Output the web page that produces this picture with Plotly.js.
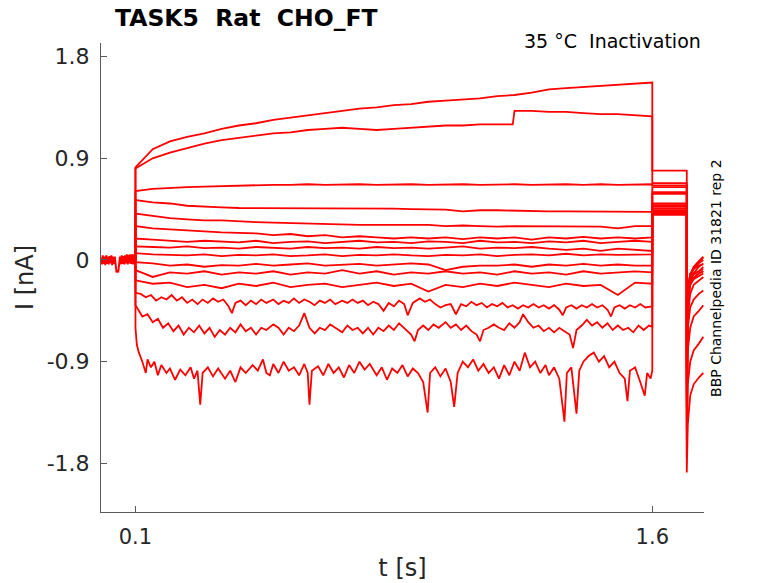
<!DOCTYPE html>
<html>
<head>
<meta charset="utf-8">
<script src="https://cdn.plot.ly/plotly-3.0.1.min.js"></script>
<style>html,body{margin:0;padding:0;background:#fff;}#chart{width:778px;height:583px;}</style>
</head>
<body>
<div id="chart"></div>
<script>
// ---- time bases (s) ----
const tGrid = [0.1,0.15,0.2,0.25,0.3,0.35,0.4,0.45,0.5,0.55,0.6,0.65,0.7,0.75,0.8,0.85,0.9,0.95,1.0,1.05,1.1,1.15,1.2,1.25,1.3,1.35,1.4,1.45,1.5,1.55,1.6];
const tJump = [0.1,0.15,0.2,0.25,0.3,0.35,0.4,0.45,0.5,0.55,0.6,0.65,0.7,0.75,0.8,0.85,0.9,0.95,1.0,1.05,1.1,1.15,1.195,1.2,1.25,1.3,1.35,1.4,1.45,1.5,1.55,1.6];
const baseT = [0,0.0025,0.005,0.0075,0.01,0.0125,0.015,0.0175,0.02,0.0225,0.025,0.0275,0.03,0.0325,0.035,0.0375,0.04,0.0425,0.045,0.0475,0.05,0.0525,0.055,0.0575,0.06,0.0625,0.065,0.0675,0.07,0.0725,0.075,0.0775,0.08,0.0825,0.085,0.0875,0.09,0.0925,0.095,0.0975,0.1];
const baseI = [0.02,-0.04,0.04,-0.035,0.03,-0.045,0.04,-0.035,0.03,-0.04,
0.035,-0.03,0.04,-0.045,0.03,-0.035,0.03,-0.07,-0.11,-0.09,
-0.11,-0.04,0.03,-0.04,0.04,-0.035,0.035,-0.04,0.04,-0.03,
0.05,-0.04,0.045,-0.03,0.05,-0.035,0.05,-0.04,0.05,-0.03,0.04];

// ---- sweep currents during the conditioning step (nA) ----
const sweep1 = [0.82,0.98,1.05,1.09,1.12,1.16,1.19,1.21,1.24,1.26,1.28,1.30,1.32,1.34,1.35,1.37,1.38,1.40,1.41,1.42,1.43,1.45,1.46,1.48,1.51,1.52,1.53,1.54,1.55,1.56,1.57];
const sweep2 = [0.81,0.90,0.95,0.99,1.03,1.06,1.08,1.10,1.12,1.13,1.15,1.16,1.17,1.16,1.15,1.16,1.17,1.18,1.19,1.19,1.20,1.20,1.20,1.32,1.32,1.31,1.31,1.30,1.29,1.29,1.28,1.27];
const sweep3 = [0.61,0.63,0.64,0.645,0.65,0.655,0.66,0.66,0.665,0.665,0.67,0.665,0.67,0.67,0.665,0.67,0.67,0.665,0.67,0.67,0.665,0.67,0.67,0.665,0.67,0.67,0.665,0.67,0.665,0.67,0.67];
const sweep4 = [0.53,0.51,0.50,0.48,0.47,0.465,0.46,0.46,0.46,0.455,0.46,0.455,0.46,0.455,0.46,0.455,0.45,0.45,0.445,0.43,0.44,0.44,0.435,0.435,0.43,0.43,0.43,0.425,0.425,0.425,0.425];
const sweep5 = [0.41,0.39,0.37,0.36,0.35,0.35,0.34,0.335,0.33,0.325,0.32,0.32,0.315,0.31,0.31,0.31,0.305,0.31,0.30,0.305,0.30,0.295,0.30,0.30,0.295,0.30,0.30,0.295,0.28,0.30,0.30];
const sweep6 = [0.30,0.28,0.27,0.26,0.25,0.245,0.24,0.235,0.22,0.23,0.21,0.22,0.20,0.21,0.20,0.19,0.20,0.19,0.20,0.185,0.20,0.19,0.20,0.18,0.20,0.19,0.205,0.19,0.20,0.19,0.20];
const sweep7 = [0.19,0.18,0.17,0.16,0.17,0.16,0.155,0.17,0.15,0.16,0.165,0.15,0.16,0.17,0.155,0.16,0.15,0.165,0.16,0.15,0.17,0.155,0.16,0.15,0.165,0.155,0.17,0.15,0.16,0.17,0.16];
const sweep8 = [0.12,0.115,0.11,0.12,0.105,0.11,0.10,0.115,0.11,0.10,0.115,0.105,0.11,0.10,0.115,0.105,0.11,0.10,0.11,0.12,0.10,0.11,0.105,0.115,0.10,0.09,0.10,0.08,0.10,0.09,0.08];
const sweep9 = [0.06,0.05,0.045,0.04,0.05,0.035,0.045,0.04,0.05,0.035,0.04,0.05,0.035,0.045,0.04,0.05,0.04,0.035,0.045,0.04,0.05,0.035,0.045,0.05,0.04,0.055,0.04,0.05,0.045,0.05,0.05];
const sweep10 = [-0.02,-0.03,-0.05,-0.04,-0.06,-0.045,-0.05,-0.035,-0.05,-0.04,-0.03,-0.05,-0.04,-0.035,-0.05,-0.04,-0.03,-0.04,-0.09,-0.06,-0.05,-0.05,-0.04,-0.06,-0.04,-0.05,-0.035,-0.05,-0.04,-0.05,-0.05];
const sweep11 = [-0.09,-0.15,-0.11,-0.12,-0.10,-0.13,-0.11,-0.12,-0.10,-0.13,-0.11,-0.12,-0.09,-0.12,-0.10,-0.13,-0.11,-0.12,-0.10,-0.12,-0.11,-0.13,-0.10,-0.12,-0.11,-0.13,-0.10,-0.12,-0.11,-0.10,-0.11];
const sweep12 = [-0.18,-0.21,-0.20,-0.24,-0.22,-0.25,-0.21,-0.23,-0.20,-0.24,-0.22,-0.21,-0.24,-0.22,-0.20,-0.23,-0.21,-0.28,-0.22,-0.24,-0.21,-0.23,-0.20,-0.22,-0.24,-0.21,-0.23,-0.22,-0.31,-0.20,-0.21];

const t13 = [0.1,0.115,0.13,0.145,0.16,0.175,0.19,0.205,0.22,0.235,
0.25,0.265,0.28,0.295,0.31,0.325,0.34,0.355,0.37,0.38,
0.39,0.405,0.42,0.435,0.45,0.465,0.48,0.5,0.515,0.53,
0.545,0.56,0.575,0.59,0.605,0.62,0.635,0.65,0.665,0.68,
0.7,0.715,0.73,0.745,0.76,0.775,0.79,0.805,0.82,0.835,
0.85,0.865,0.88,0.89,0.905,0.925,0.94,0.955,0.97,0.985,
1.0,1.015,1.03,1.045,1.06,1.075,1.09,1.105,1.12,1.135,
1.15,1.165,1.18,1.195,1.21,1.225,1.24,1.255,1.27,1.285,
1.3,1.315,1.33,1.34,1.35,1.365,1.38,1.395,1.41,1.425,
1.44,1.455,1.47,1.48,1.49,1.505,1.52,1.535,1.55,1.565,
1.58,1.6];
const sweep13 = [-0.29,-0.30,-0.33,-0.31,-0.36,-0.33,-0.35,-0.31,-0.36,-0.33,
-0.38,-0.35,-0.39,-0.35,-0.38,-0.34,-0.37,-0.35,-0.41,-0.47,
-0.38,-0.36,-0.40,-0.36,-0.39,-0.35,-0.38,-0.35,-0.39,-0.36,
-0.38,-0.34,-0.38,-0.35,-0.37,-0.40,-0.36,-0.38,-0.35,-0.39,
-0.36,-0.38,-0.35,-0.38,-0.36,-0.40,-0.37,-0.39,-0.45,-0.38,
-0.41,-0.36,-0.39,-0.49,-0.38,-0.34,-0.37,-0.35,-0.39,-0.42,
-0.40,-0.39,-0.48,-0.39,-0.41,-0.37,-0.40,-0.38,-0.42,-0.39,
-0.41,-0.38,-0.42,-0.40,-0.43,-0.40,-0.42,-0.39,-0.42,-0.40,
-0.43,-0.40,-0.44,-0.49,-0.42,-0.40,-0.43,-0.40,-0.42,-0.39,
-0.42,-0.40,-0.44,-0.50,-0.42,-0.40,-0.43,-0.40,-0.42,-0.39,
-0.42,-0.41];

const t14 = [0.1,0.11,0.12,0.135,0.15,0.165,0.18,0.195,0.21,0.225,
0.24,0.255,0.27,0.285,0.3,0.315,0.33,0.345,0.36,0.375,
0.39,0.405,0.42,0.435,0.45,0.465,0.48,0.5,0.515,0.53,
0.545,0.56,0.575,0.59,0.605,0.62,0.635,0.65,0.665,0.68,
0.7,0.715,0.73,0.745,0.76,0.775,0.79,0.805,0.82,0.835,
0.85,0.865,0.88,0.9,0.91,0.92,0.935,0.95,0.965,0.98,
1.0,1.015,1.03,1.045,1.06,1.075,1.09,1.1,1.11,1.125,
1.14,1.155,1.17,1.185,1.2,1.215,1.225,1.24,1.255,1.27,
1.285,1.3,1.315,1.33,1.345,1.36,1.37,1.38,1.395,1.41,
1.425,1.44,1.455,1.47,1.485,1.5,1.515,1.53,1.545,1.56,
1.575,1.59,1.6];
const sweep14 = [-0.40,-0.45,-0.50,-0.48,-0.55,-0.52,-0.60,-0.56,-0.63,-0.58,
-0.66,-0.60,-0.64,-0.58,-0.65,-0.60,-0.68,-0.62,-0.66,-0.60,
-0.64,-0.57,-0.63,-0.60,-0.66,-0.60,-0.62,-0.57,-0.60,-0.66,
-0.60,-0.63,-0.58,-0.47,-0.60,-0.65,-0.60,-0.62,-0.57,-0.60,
-0.64,-0.58,-0.62,-0.60,-0.65,-0.60,-0.66,-0.60,-0.63,-0.58,
-0.62,-0.56,-0.60,-0.66,-0.72,-0.62,-0.58,-0.62,-0.57,-0.60,
-0.55,-0.60,-0.57,-0.62,-0.58,-0.63,-0.66,-0.72,-0.62,-0.60,
-0.57,-0.60,-0.62,-0.56,-0.60,-0.55,-0.48,-0.55,-0.60,-0.58,
-0.63,-0.60,-0.64,-0.60,-0.63,-0.66,-0.78,-0.62,-0.58,-0.53,
-0.58,-0.55,-0.60,-0.56,-0.62,-0.58,-0.62,-0.60,-0.64,-0.58,
-0.62,-0.58,-0.59];

const t15 = [0.1,0.104,0.11,0.12,0.13,0.135,0.145,0.155,0.165,0.175,
0.19,0.2,0.215,0.23,0.245,0.26,0.27,0.28,0.288,0.295,
0.31,0.325,0.34,0.36,0.375,0.39,0.405,0.42,0.44,0.455,
0.47,0.48,0.49,0.5,0.515,0.53,0.545,0.56,0.575,0.59,
0.6,0.605,0.612,0.63,0.645,0.66,0.675,0.69,0.705,0.72,
0.735,0.75,0.765,0.78,0.8,0.815,0.83,0.845,0.86,0.875,
0.89,0.905,0.92,0.935,0.948,0.955,0.97,0.985,1.0,1.015,
1.025,1.035,1.05,1.065,1.08,1.095,1.11,1.125,1.14,1.155,
1.17,1.185,1.2,1.215,1.23,1.245,1.26,1.275,1.29,1.3,
1.315,1.33,1.345,1.352,1.365,1.38,1.388,1.4,1.415,1.43,
1.445,1.46,1.475,1.49,1.505,1.52,1.528,1.535,1.55,1.565,
1.578,1.585,1.595,1.6];
const sweep15 = [-0.60,-0.75,-0.82,-0.90,-1.00,-0.88,-0.95,-0.90,-1.02,-0.93,
-1.00,-0.96,-1.06,-0.97,-1.02,-0.95,-1.05,-0.98,-1.28,-1.00,
-0.95,-1.03,-0.96,-1.05,-0.98,-1.08,-0.95,-1.00,-0.93,-0.98,
-0.88,-1.00,-1.02,-0.92,-1.00,-0.90,-0.98,-0.95,-1.02,-0.92,
-1.00,-1.28,-0.98,-0.94,-1.02,-0.92,-1.00,-0.95,-1.04,-0.93,
-1.00,-0.90,-0.97,-0.92,-1.02,-0.95,-1.06,-0.96,-1.00,-0.93,
-1.03,-0.96,-1.00,-1.08,-1.35,-1.00,-0.95,-1.03,-0.96,-1.08,
-1.30,-1.00,-0.90,-0.95,-0.88,-0.98,-0.92,-1.00,-0.95,-1.05,
-0.93,-1.02,-0.90,-0.98,-0.82,-0.95,-0.90,-1.00,-0.93,-1.02,
-0.95,-1.05,-1.43,-1.00,-0.95,-1.36,-0.98,-0.90,-0.85,-0.82,
-0.90,-0.85,-0.95,-0.90,-1.00,-1.05,-1.25,-0.98,-0.95,-1.08,
-1.20,-1.00,-1.05,-0.98];

// ---- test-pulse (tail) level, 1.6 - 1.7 s ----
const tailLevels = [0.79,0.68,0.66,0.645,0.60,0.585,0.50,0.485,0.47,0.455,0.44,0.43,0.42,0.41,0.40];
// ---- return to holding: transient and recovery ----
const recovT = [1.7,1.703,1.71,1.72,1.735,1.748];
const recov1 = [-1.88,-1.45,-1.2,-1.1,-1.04,-1.0];
const recov2 = [-1.75,-1.1,-0.9,-0.8,-0.74,-0.68];
const recov3 = [-1.6,-0.8,-0.6,-0.5,-0.45,-0.4];
const recov4 = [-1.5,-0.6,-0.42,-0.35,-0.3,-0.27];
const recov5 = [-1.4,-0.5,-0.3,-0.22,-0.18,-0.15];
const recov6 = [-1.3,-0.4,-0.22,-0.16,-0.12,-0.1];
const recov7 = [-1.25,-0.35,-0.2,-0.12,-0.06,-0.03];
const recov8 = [-1.2,-0.3,-0.15,-0.08,-0.03,0.0];
const recov9 = [-1.15,-0.28,-0.14,-0.07,-0.02,0.02];
const recov10 = [-1.1,-0.26,-0.13,-0.06,-0.01,0.03];
const recov11 = [-1.05,-0.25,-0.12,-0.08,-0.05,-0.04];
const recov12 = [-1.0,-0.3,-0.18,-0.12,-0.1,-0.08];
const recov13 = [-0.95,-0.35,-0.22,-0.17,-0.14,-0.12];
const recov14 = [-0.9,-0.3,-0.2,-0.16,-0.12,-0.1];
const recov15 = [-0.85,-0.28,-0.17,-0.13,-0.1,-0.06];

const xTickVals = [0.1, 1.6];
const xTickText = ['0.1', '1.6'];
const yTickVals = [-1.8, -0.9, 0, 0.9, 1.8];
const yTickText = ['-1.8', '-0.9', '0', '0.9', '1.8'];

const sweeps = [
  [tGrid, sweep1, recov1], [tJump, sweep2, recov2], [tGrid, sweep3, recov3],
  [tGrid, sweep4, recov4], [tGrid, sweep5, recov5], [tGrid, sweep6, recov6],
  [tGrid, sweep7, recov7], [tGrid, sweep8, recov8], [tGrid, sweep9, recov9],
  [tGrid, sweep10, recov10], [tGrid, sweep11, recov11], [tGrid, sweep12, recov12],
  [t13, sweep13, recov13], [t14, sweep14, recov14], [t15, sweep15, recov15]
];

const RED = '#ff0000';
const traces = [{
  x: baseT, y: baseI, type: 'scatter', mode: 'lines',
  line: {color: RED, width: 2}, hoverinfo: 'skip', showlegend: false
}];
sweeps.forEach(function (s, k) {
  const tail = tailLevels[k];
  const x = [0.1].concat(s[0], [1.6, 1.7], recovT);
  const y = [0].concat(s[1], [tail, tail], s[2]);
  traces.push({x: x, y: y, type: 'scatter', mode: 'lines',
    line: {color: RED, width: 1.8}, hoverinfo: 'skip', showlegend: false});
});

const FONT = 'DejaVu Sans, sans-serif';
const layout = {
  width: 778, height: 583,
  margin: {l: 101, r: 74, t: 43, b: 71, pad: 0},
  paper_bgcolor: '#ffffff', plot_bgcolor: '#ffffff',
  showlegend: false,
  title: {
    text: 'TASK5\u00a0\u00a0Rat\u00a0\u00a0CHO_FT',
    font: {family: FONT, size: 23.5, color: '#000000', weight: 'bold'},
    x: 115 / 778, xref: 'container', xanchor: 'left',
    y: 1 - 18 / 583, yref: 'container', yanchor: 'middle'
  },
  xaxis: {
    range: [0, 1.75], autorange: false,
    tickvals: xTickVals, ticktext: xTickText,
    ticks: 'inside', ticklen: 6, tickcolor: '#5a5a5a', tickwidth: 1,
    showline: true, linecolor: '#5a5a5a', linewidth: 1,
    mirror: false, showgrid: false, zeroline: false,
    tickfont: {family: FONT, size: 21, color: '#262626'},
    ticklabelstandoff: 6,
    title: {text: 't [s]', font: {family: FONT, size: 24, color: '#262626'}, standoff: 10}
  },
  yaxis: {
    range: [-2.23, 1.92], autorange: false,
    tickvals: yTickVals, ticktext: yTickText,
    ticks: 'inside', ticklen: 6, tickcolor: '#5a5a5a', tickwidth: 1,
    showline: true, linecolor: '#5a5a5a', linewidth: 1,
    mirror: false, showgrid: false, zeroline: false,
    tickfont: {family: FONT, size: 22, color: '#262626'},
    ticklabelstandoff: 6,
    title: {text: 'I [nA]', font: {family: FONT, size: 24, color: '#262626'}, standoff: 6}
  },
  annotations: [
    {text: '35 °C\u00a0\u00a0Inactivation', xref: 'paper', yref: 'paper',
     x: 0.999, y: 1.004, xanchor: 'right', yanchor: 'middle', showarrow: false,
     font: {family: FONT, size: 19, color: '#000000'}},
    {text: 'BBP Channelpedia ID 31821 rep 2', xref: 'paper', yref: 'paper',
     x: 1.0199, y: 0.499, xanchor: 'center', yanchor: 'middle', textangle: -90,
     showarrow: false, font: {family: FONT, size: 14, color: '#000000'}}
  ]
};

Plotly.newPlot('chart', traces, layout, {staticPlot: true, displayModeBar: false});
</script>
</body>
</html>
